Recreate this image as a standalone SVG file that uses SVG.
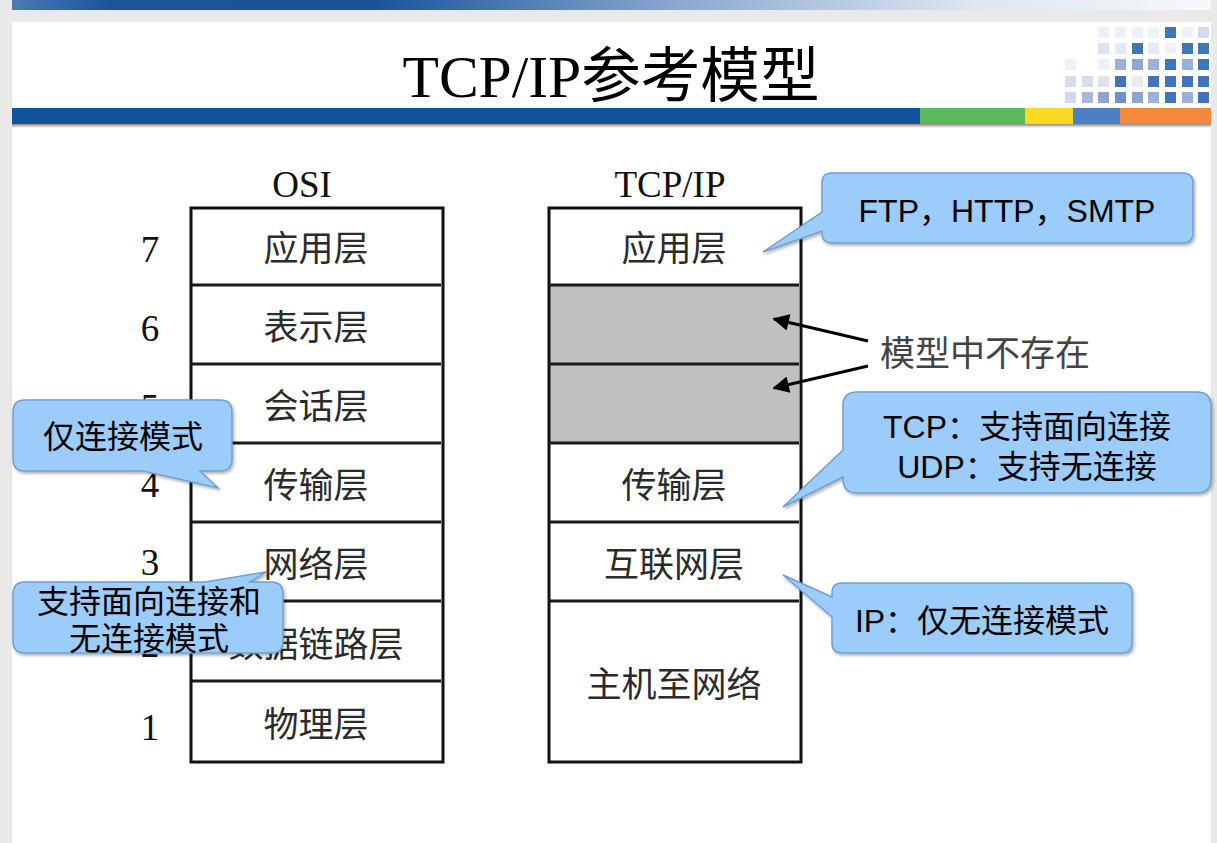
<svg xmlns="http://www.w3.org/2000/svg" width="1217" height="843" viewBox="0 0 1217 843">
<style>
.serif{font-family:"Liberation Serif","Noto Sans CJK SC",serif;}
.cjk{font-family:"Noto Sans CJK SC",sans-serif;}
.sans{font-family:"Liberation Sans","Noto Sans CJK SC",sans-serif;}
.layer{font-family:"Noto Sans CJK SC",sans-serif;font-size:35px;fill:#2b2b2b;text-anchor:middle;}
.num{font-family:"Liberation Serif",serif;font-size:37px;fill:#111;text-anchor:middle;}
.hdr{font-family:"Liberation Serif",serif;font-size:37px;fill:#111;text-anchor:middle;}
.box{fill:none;stroke:#111;stroke-width:3;}
.div{stroke:#1a1a1a;stroke-width:3;}
.call{fill:#9cccfa;stroke:#6f9fd0;stroke-width:1.5;filter:url(#sh);}
.ctext{font-size:32px;fill:#000;text-anchor:middle;}
.sq{width:11px;height:11px;}
</style>
<defs>
<linearGradient id="topg" x1="0" y1="0" x2="1" y2="0">
<stop offset="0" stop-color="#4d7bb4"/>
<stop offset="0.08" stop-color="#1d5498"/>
<stop offset="0.3" stop-color="#1b5398"/>
<stop offset="0.55" stop-color="#89a7ce"/>
<stop offset="0.8" stop-color="#dde6f1"/>
<stop offset="1" stop-color="#f7f8fa"/>
</linearGradient>
<linearGradient id="shad" x1="0" y1="0" x2="0" y2="1">
<stop offset="0" stop-color="#8a8a8a"/>
<stop offset="1" stop-color="#ffffff"/>
</linearGradient>
<filter id="sh" x="-10%" y="-10%" width="120%" height="130%">
<feDropShadow dx="1.5" dy="2" stdDeviation="1.5" flood-color="#000" flood-opacity="0.3"/>
</filter>
<marker id="ah" viewBox="0 0 10 10" refX="9" refY="5" markerWidth="6.5" markerHeight="5.5" orient="auto" markerUnits="strokeWidth">
<path d="M0,0 L10,5 L0,10 Z" fill="#000"/>
</marker>
</defs>

<g id="background">
<rect x="0" y="0" width="1217" height="843" fill="#e9e9e9"/>
<rect x="12" y="0" width="1199" height="10" fill="url(#topg)"/>
<rect x="12" y="22" width="1199" height="821" fill="#ffffff"/>
<rect x="12" y="108" width="908" height="16" fill="#11529a"/>
<rect x="920" y="108" width="105" height="16" fill="#5cb85c"/>
<rect x="1025" y="108" width="48" height="16" fill="#fcd923"/>
<rect x="1073" y="108" width="47" height="16" fill="#4a80c1"/>
<rect x="1120" y="108" width="91" height="16" fill="#f48a39"/>
<rect x="12" y="124" width="1199" height="4" fill="url(#shad)"/>
</g>

<g id="pixels">
<rect class="sq" x="1098" y="27" fill="#eef1f8"/>
<rect class="sq" x="1115" y="27" fill="#eef1f8"/>
<rect class="sq" x="1132" y="27" fill="#eef1f8"/>
<rect class="sq" x="1148" y="27" fill="#eef1f8"/>
<rect class="sq" x="1165" y="27" fill="#3f75b9"/>
<rect class="sq" x="1182" y="27" fill="#eef1f8"/>
<rect class="sq" x="1198" y="27" fill="#d3dcee"/>

<rect class="sq" x="1098" y="43" fill="#dbe2f1"/>
<rect class="sq" x="1115" y="43" fill="#e6eaf5"/>
<rect class="sq" x="1132" y="43" fill="#3f75b9"/>
<rect class="sq" x="1148" y="43" fill="#e6eaf5"/>
<rect class="sq" x="1165" y="43" fill="#eef1f8"/>
<rect class="sq" x="1182" y="43" fill="#3f75b9"/>
<rect class="sq" x="1198" y="43" fill="#3f75b9"/>

<rect class="sq" x="1065" y="59" fill="#eef1f8"/>
<rect class="sq" x="1098" y="59" fill="#eef1f8"/>
<rect class="sq" x="1115" y="59" fill="#9cb1d9"/>
<rect class="sq" x="1132" y="59" fill="#8ea6d3"/>
<rect class="sq" x="1148" y="59" fill="#9cb1d9"/>
<rect class="sq" x="1165" y="59" fill="#3f75b9"/>
<rect class="sq" x="1182" y="59" fill="#9cb1d9"/>
<rect class="sq" x="1198" y="59" fill="#3f75b9"/>

<rect class="sq" x="1065" y="76" fill="#d5ddef"/>
<rect class="sq" x="1082" y="76" fill="#d5ddef"/>
<rect class="sq" x="1098" y="76" fill="#dde3f1"/>
<rect class="sq" x="1115" y="76" fill="#3f75b9"/>
<rect class="sq" x="1132" y="76" fill="#e6eaf5"/>
<rect class="sq" x="1148" y="76" fill="#3f75b9"/>
<rect class="sq" x="1165" y="76" fill="#3f75b9"/>
<rect class="sq" x="1182" y="76" fill="#3f75b9"/>
<rect class="sq" x="1198" y="76" fill="#3f75b9"/>

<rect class="sq" x="1065" y="92" fill="#d0daee"/>
<rect class="sq" x="1082" y="92" fill="#a8b9de"/>
<rect class="sq" x="1098" y="92" fill="#8fa4d1"/>
<rect class="sq" x="1115" y="92" fill="#6f90c8"/>
<rect class="sq" x="1132" y="92" fill="#8fa4d1"/>
<rect class="sq" x="1148" y="92" fill="#9cb1d9"/>
<rect class="sq" x="1165" y="92" fill="#3f75b9"/>
<rect class="sq" x="1182" y="92" fill="#9cb1d9"/>
<rect class="sq" x="1198" y="92" fill="#3f75b9"/>
</g>

<g id="title">
<text x="611" y="97" class="serif" font-size="60" fill="#000" text-anchor="middle" textLength="417" lengthAdjust="spacingAndGlyphs">TCP/IP参考模型</text>
</g>

<g id="osi">
<text x="302" y="197" class="hdr">OSI</text>
<rect x="191" y="208" width="252" height="554" class="box"/>
<line x1="191" y1="285" x2="441" y2="285" class="div"/>
<line x1="191" y1="364" x2="441" y2="364" class="div"/>
<line x1="191" y1="443" x2="441" y2="443" class="div"/>
<line x1="191" y1="522" x2="441" y2="522" class="div"/>
<line x1="191" y1="601" x2="441" y2="601" class="div"/>
<line x1="191" y1="681" x2="441" y2="681" class="div"/>
<text x="316" y="261" class="layer">应用层</text>
<text x="316" y="340" class="layer">表示层</text>
<text x="316" y="419" class="layer">会话层</text>
<text x="316" y="498" class="layer">传输层</text>
<text x="316" y="577" class="layer">网络层</text>
<text x="316" y="657" class="layer">数据链路层</text>
<text x="316" y="737" class="layer">物理层</text>
<text x="150" y="262" class="num">7</text>
<text x="150" y="341" class="num">6</text>
<text x="150" y="420" class="num">5</text>
<text x="150" y="497" class="num">4</text>
<text x="150" y="575" class="num">3</text>
<text x="150" y="657" class="num">2</text>
<text x="150" y="740" class="num">1</text>
</g>

<g id="tcpip">
<text x="670" y="197" class="hdr">TCP/IP</text>
<rect x="549" y="286" width="250" height="157" fill="#c0c0c0"/>
<rect x="549" y="208" width="252" height="554" class="box"/>
<line x1="549" y1="285" x2="799" y2="285" class="div"/>
<line x1="549" y1="364" x2="799" y2="364" class="div"/>
<line x1="549" y1="443" x2="799" y2="443" class="div"/>
<line x1="549" y1="522" x2="799" y2="522" class="div"/>
<line x1="549" y1="601" x2="799" y2="601" class="div"/>
<text x="674" y="261" class="layer">应用层</text>
<text x="674" y="498" class="layer">传输层</text>
<text x="674" y="577" class="layer">互联网层</text>
<text x="674" y="697" class="layer">主机至网络</text>
</g>

<g id="connectors">
<line x1="868" y1="341" x2="774" y2="319" stroke="#000" stroke-width="3" marker-end="url(#ah)"/>
<line x1="868" y1="366" x2="774" y2="388" stroke="#000" stroke-width="3" marker-end="url(#ah)"/>
</g>

<g id="not-exist-label">
<text x="985" y="366" class="cjk" font-size="35" fill="#444" text-anchor="middle">模型中不存在</text>
</g>

<g id="callout-app">
<path class="call" d="M832,173 H1183 Q1193,173 1193,183 V233 Q1193,243 1183,243 H832 Q822,243 822,233 V231 L763,252 L822,212 V183 Q822,173 832,173 Z"/>
<text x="1007" y="222" class="sans ctext" font-size="33">FTP，HTTP，SMTP</text>
</g>

<g id="callout-transport">
<path class="call" d="M857,392 H1197 Q1211,392 1211,406 V479 Q1211,493 1197,493 H857 Q843,493 843,479 V477 L783,507 L843,450 V406 Q843,392 857,392 Z"/>
<text x="1027" y="438" class="sans ctext" font-size="34">TCP：支持面向连接</text>
<text x="1027" y="478" class="sans ctext" font-size="34">UDP：支持无连接</text>
</g>

<g id="callout-ip">
<path class="call" d="M842,583 H1122 Q1132,583 1132,593 V643 Q1132,653 1122,653 H842 Q832,653 832,643 V617 L783,575 L832,597 V593 Q832,583 842,583 Z"/>
<text x="982" y="632" class="sans ctext" font-size="33">IP：仅无连接模式</text>
</g>

<g id="callout-osi-transport">
<path class="call" d="M25,400 H220 Q232,400 232,412 V459 Q232,471 220,471 H200 L218,488 L143,471 H25 Q13,471 13,459 V412 Q13,400 25,400 Z"/>
<text x="123" y="448" class="cjk ctext" font-size="33">仅连接模式</text>
</g>

<g id="callout-osi-network">
<path class="call" d="M25,582 H205 L266,572 L250,582 H271 Q283,582 283,594 V641 Q283,653 271,653 H25 Q13,653 13,641 V594 Q13,582 25,582 Z"/>
<text x="149" y="613" class="cjk ctext" font-size="33">支持面向连接和</text>
<text x="149" y="650" class="cjk ctext" font-size="33">无连接模式</text>
</g>
</svg>
